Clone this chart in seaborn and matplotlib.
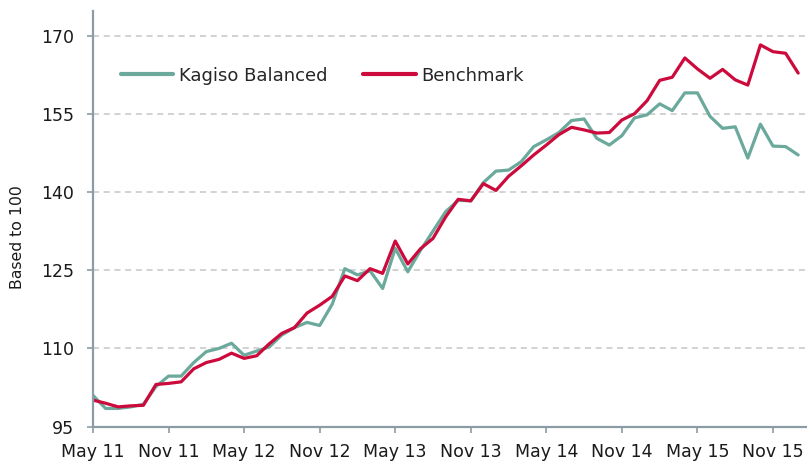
import numpy as np
import pandas as pd
import matplotlib
matplotlib.use("Agg")
import matplotlib.pyplot as plt
import seaborn as sns

# ---- data (monthly, May 2011 .. Jan 2016) ----
kagiso = [101.0, 98.5, 98.5, 98.8, 99.3, 102.7, 104.7, 104.7, 107.3, 109.4,
          110.0, 111.0, 108.7, 109.5, 110.3, 112.6, 114.0, 115.0, 114.4, 118.5,
          125.3, 124.1, 124.9, 121.5, 129.2, 124.7, 128.8, 132.5, 136.2, 138.4,
          138.3, 141.8, 144.0, 144.2, 145.8, 148.7, 150.0, 151.4, 153.7, 154.0,
          150.3, 149.0, 150.8, 154.2, 154.8, 156.9, 155.6, 159.0, 159.0, 154.5,
          152.2, 152.5, 146.5, 153.0, 148.8, 148.7, 147.1]
benchmark = [100.1, 99.5, 98.8, 99.0, 99.1, 103.1, 103.3, 103.6, 106.1, 107.3,
             107.9, 109.1, 108.1, 108.6, 110.9, 112.9, 114.0, 116.8, 118.3, 120.0,
             123.9, 123.0, 125.3, 124.4, 130.6, 126.2, 129.1, 131.1, 135.2, 138.6,
             138.3, 141.6, 140.3, 143.0, 145.0, 147.1, 149.0, 151.0, 152.4, 151.9,
             151.3, 151.4, 153.8, 155.0, 157.5, 161.4, 162.0, 165.7, 163.6, 161.8,
             163.5, 161.5, 160.5, 168.2, 166.9, 166.6, 162.8]
series_names = ["Kagiso Balanced", "Benchmark"]
tick_labels = ["May 11", "Nov 11", "May 12", "Nov 12", "May 13",
               "Nov 13", "May 14", "Nov 14", "May 15", "Nov 15"]
y_ticks = [95, 110, 125, 140, 155, 170]

months = np.arange(len(kagiso))
df = pd.DataFrame({
    "month": np.concatenate([months, months]),
    "value": kagiso + benchmark,
    "series": [series_names[0]] * len(kagiso) + [series_names[1]] * len(benchmark),
})

sns.set_style("white")
plt.rcParams["font.family"] = ["DejaVu Sans"]

fig = plt.figure(figsize=(8.07, 4.63), dpi=100)
ax = fig.add_axes([93 / 807, 1 - 426.7 / 463, 1 - 93 / 807, (426.7 - 11) / 463])

palette = {"Kagiso Balanced": "#6aa99b", "Benchmark": "#cc0a3c"}
sns.lineplot(data=df, x="month", y="value", hue="series", palette=palette,
             linewidth=2.3, ax=ax, legend=False, estimator=None, sort=False)

ax.set_xlim(0, 56.7)
ax.set_ylim(95, 174.7)
ax.set_yticks(y_ticks)
ax.set_xticks(np.arange(0, 55, 6))
ax.set_xticklabels(tick_labels)

for y in y_ticks[1:]:
    ax.axhline(y, color="#c6c6c6", linestyle=(0, (4, 3)), linewidth=1.1, zorder=0)

spine_col = "#8c9ca4"
for s in ["top", "right"]:
    ax.spines[s].set_visible(False)
for s in ["left", "bottom"]:
    ax.spines[s].set_color(spine_col)
    ax.spines[s].set_linewidth(1.6)

ax.tick_params(axis="y", length=4.5, width=1.2, color=spine_col, pad=9,
               labelsize=12.5, labelcolor="#1a1a1a", left=True)
ax.tick_params(axis="x", length=4.5, width=1.2, color=spine_col, pad=7,
               labelsize=12.5, labelcolor="#1a1a1a", bottom=True)

ax.set_xlabel("")
ax.set_ylabel("Based to 100", fontsize=11.3, color="#1a1a1a")
ax.yaxis.set_label_coords(-0.095, 0.456)

handles = [plt.Line2D([], [], color=palette[n], linewidth=3) for n in series_names]
ax.legend(handles, series_names, loc="center left", bbox_to_anchor=((121 - 93) / 714, 0.8443),
          frameon=False, ncol=2, fontsize=13, handlelength=2.9, handletextpad=0.3,
          columnspacing=2.0, borderpad=0, borderaxespad=0)

fig.savefig("out.png", dpi=100)
